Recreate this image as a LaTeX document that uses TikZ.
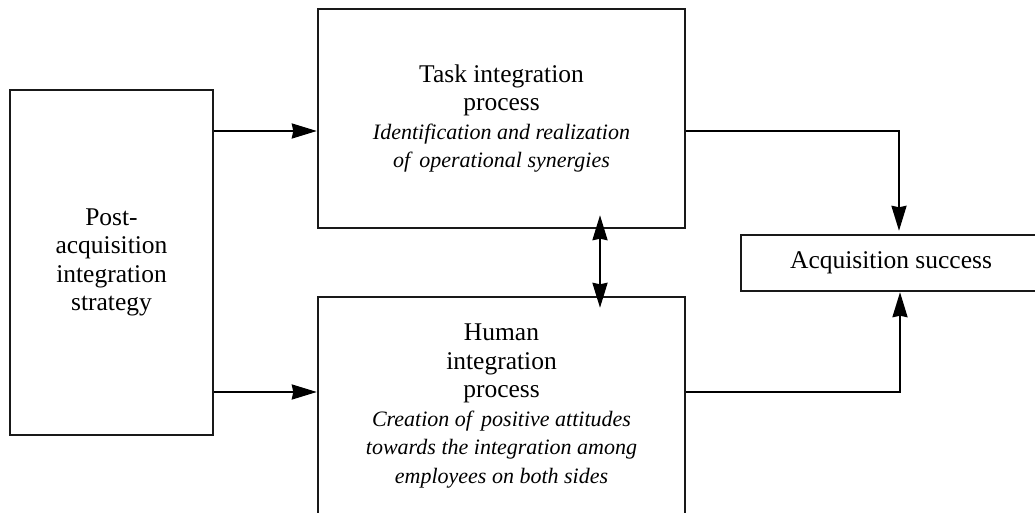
\documentclass[tikz,border=0pt]{standalone}
\usepackage{fontspec}
\setmainfont{Liberation Serif}
\usetikzlibrary{arrows.meta,calc}
\newcommand{\rmline}{\fontsize{25.5}{28.6}\selectfont}
\newcommand{\itline}{\fontsize{22}{28.6}\selectfont\itshape}
\begin{document}
\begin{tikzpicture}[x=1pt,y=-1pt,
  box/.style={draw=black!90, line width=2.4pt, fill=white, align=center, inner sep=0pt, font=\rmline},
  arr/.style={draw=black, line width=2.2pt, -{Stealth[length=25pt,width=15pt,inset=1.5pt]}},
  arrtwo/.style={draw=black, line width=2.2pt, {Stealth[length=25pt,width=15pt,inset=1.5pt]}-{Stealth[length=25pt,width=15pt,inset=1.5pt]}}]
\useasboundingbox (0,0) rectangle (1035,513);
\clip (0,0) rectangle (1035,513);
\fill[white] (0,0) rectangle (1035,513);

\node[box, minimum width=203pt, minimum height=345pt] (strat) at (111.5,262.5)
  {Post-\\acquisition\\integration\\strategy};
\node[box, minimum width=367pt, minimum height=219pt] (task) at (501.5,118.5)
  {Task integration\\process\\{\itline Identification and realization}\\{\itline of\, operational synergies}};
\node[box, minimum width=367pt, minimum height=218pt] (human) at (501.5,406)
  {Human\\integration\\process\\{\itline Creation of\, positive attitudes}\\{\itline towards the integration among}\\{\itline employees on both sides}};
\node[box, minimum width=300pt, minimum height=56pt] (acq) at (891,263)
  {Acquisition success};

\draw[arr] (strat.east |- 0,131) -- (task.west |- 0,131);
\draw[arr] (strat.east |- 0,392) -- (human.west |- 0,392);
\draw[arr] (task.east |- 0,131) -| ([xshift=8pt,yshift=3pt]acq.north);
\draw[arr] (human.east |- 0,392) -| ([xshift=9pt]acq.south);
\draw[arrtwo] ([xshift=98.5pt,yshift=14pt]task.south) -- ([xshift=98.5pt,yshift=-12pt]human.north);
\end{tikzpicture}
\end{document}
